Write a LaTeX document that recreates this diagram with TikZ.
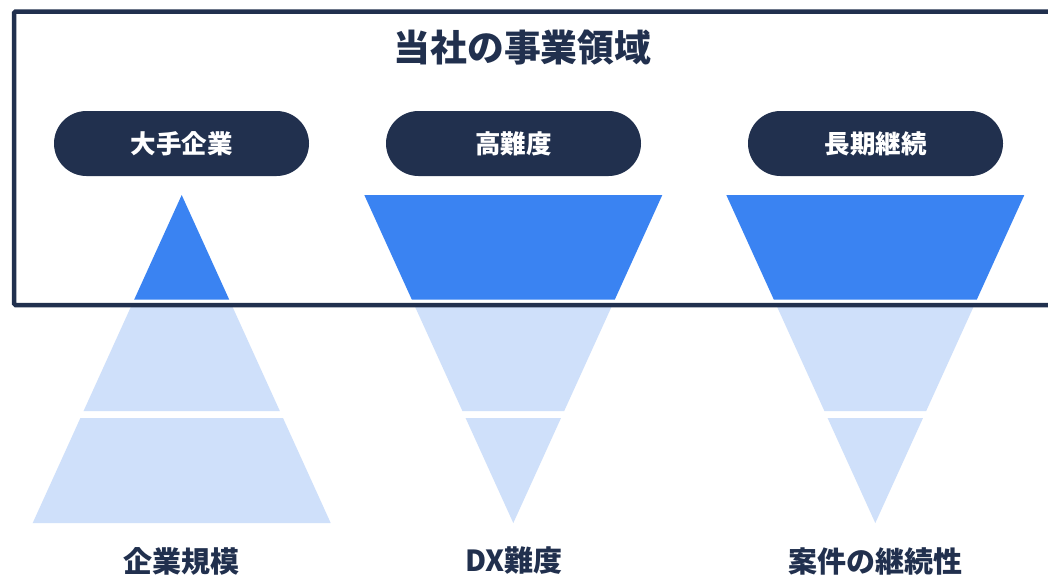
\documentclass[tikz,border=0pt]{standalone}
\usepackage{fontspec}
\setmainfont{Noto Sans CJK JP}
\definecolor{navy}{HTML}{21304E}
\definecolor{mainblue}{HTML}{3A83F2}
\definecolor{lightblue}{HTML}{CFE0FA}
\tikzset{
  pill/.style={fill=navy, rounded corners=32.5pt, minimum width=255pt, minimum height=65pt, inner sep=0pt, text=white, font=\fontsize{25.5}{30}\selectfont\bfseries},
  titletext/.style={text=navy, font=\fontsize{36.8}{42}\selectfont\bfseries, inner sep=0pt},
  bottomtext/.style={text=navy, font=\fontsize{29}{34}\selectfont\bfseries, inner sep=0pt},
  darkband/.style={fill=mainblue},
  lightband/.style={fill=lightblue},
  frame/.style={draw=navy, line width=4.5pt, rounded corners=1.5pt}
}
\newcommand{\mypyramid}[1]{%
  \begin{scope}[xshift=#1pt]
    \fill[darkband] (0,195) -- (47.47,299.5) -- (-47.47,299.5) -- cycle;
    \fill[lightband] (-50.65,306.5) -- (50.65,306.5) -- (98.21,411.2) -- (-98.21,411.2) -- cycle;
    \fill[lightband] (-101.39,418.2) -- (101.39,418.2) -- (149,523) -- (-149,523) -- cycle;
  \end{scope}}
\newcommand{\myfunnel}[1]{%
  \begin{scope}[xshift=#1pt]
    \fill[darkband] (-149,195) -- (149,195) -- (101.53,299.5) -- (-101.53,299.5) -- cycle;
    \fill[lightband] (-98.35,306.5) -- (98.35,306.5) -- (50.79,411.2) -- (-50.79,411.2) -- cycle;
    \fill[lightband] (-47.61,418.2) -- (47.61,418.2) -- (0,523) -- cycle;
  \end{scope}}
\begin{document}
\begin{tikzpicture}[x=1pt, y=-1pt]
  \useasboundingbox (0,0) rectangle (1048,576);
  \fill[white] (0,0) rectangle (1048,576);
  \mypyramid{181.7}
  \myfunnel{513.3}
  \myfunnel{875.3}
  \draw[frame] (14,11.5) rectangle (1056,305);
  \node[titletext] (title) at (522.5,47.5) {当社の事業領域};
  \node[pill] (p1) at (181.5,143.5) {大手企業};
  \node[pill] (p2) at (513.5,143.5) {高難度};
  \node[pill] (p3) at (875.5,143.5) {長期継続};
  \node[bottomtext] (b1) at (181.5,561) {企業規模};
  \node[bottomtext] (b2) at (514,561) {DX難度};
  \node[bottomtext] (b3) at (875,561) {案件の継続性};
\end{tikzpicture}
\end{document}
